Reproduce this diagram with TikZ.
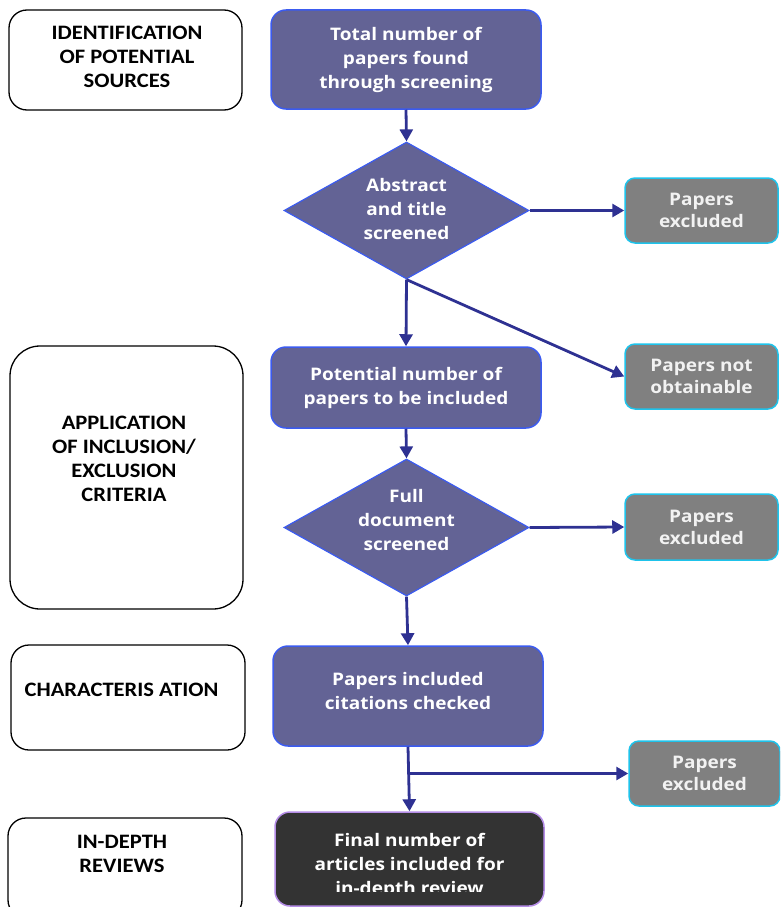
\documentclass[tikz,border=0pt]{standalone}
\usepackage{fontspec}
\newfontfamily\flowfont{Open Sans}[FakeStretch=1.1]
\newfontfamily\phasefont{Carlito}[FakeStretch=1.1]
\usetikzlibrary{arrows.meta,shapes.geometric,calc}

\definecolor{stepfill}{RGB}{99,99,149}
\definecolor{stepline}{RGB}{59,91,240}
\definecolor{outfill}{RGB}{128,128,128}
\definecolor{outline}{RGB}{30,195,235}
\definecolor{finalfill}{RGB}{51,51,51}
\definecolor{finalline}{RGB}{180,140,230}
\definecolor{flow}{RGB}{46,49,146}

\tikzset{
  phase/.style={draw=black, line width=1.3pt, fill=white, rounded corners=18pt, inner sep=0pt},
  phasetext/.style={font=\phasefont\bfseries\fontsize{20.5}{24}\selectfont, align=center, text=black, inner sep=0pt},
  flowtext/.style={font=\flowfont\bfseries\fontsize{17.3}{24}\selectfont, align=center, text=white, inner sep=0pt},
  stepbox/.style={draw=stepline, line width=1.5pt, fill=stepfill, rounded corners=15pt, flowtext},
  decision/.style={diamond, draw=stepline, line width=1.2pt, fill=stepfill, flowtext},
  outbox/.style={draw=outline, line width=1.5pt, fill=outfill, rounded corners=10pt, flowtext,
    text=white!95!black, font=\flowfont\bfseries\fontsize{17.3}{22}\selectfont},
  finalbox/.style={draw=finalline, line width=1.5pt, fill=finalfill, rounded corners=15pt, flowtext},
  flowarrow/.style={draw=flow, line width=2.8pt, -{Triangle[length=12pt,width=13pt]}},
}

\begin{document}
\begin{tikzpicture}[x=1pt, y=-1pt]
\useasboundingbox (0,0) rectangle (780,907);
\clip (0,0) rectangle (780,907);

% phase column
\node[phase, minimum width=233pt, minimum height=100pt] (p1) at (125.5,60) {};
\node[phasetext] (p1t) at (127,57) {IDENTIFICATION\\OF POTENTIAL\\SOURCES};
\node[phase, rounded corners=30pt, minimum width=233pt, minimum height=263pt] (p2) at (126.5,477.5) {};
\node[phasetext] (p2t) at (124,459) {APPLICATION\\OF INCLUSION/\\EXCLUSION\\CRITERIA};
\node[phase, minimum width=234pt, minimum height=105pt] (p3) at (128,697.5) {};
\node[phasetext] (p3t) at (121.5,690) {CHARACTERIS ATION};
\node[phase, minimum width=234pt, minimum height=100pt] (p4) at (125,868) {};
\node[phasetext] (p4t) at (122,854) {IN-DEPTH\\REVIEWS};

% screening flow
\node[stepbox, minimum width=270pt, minimum height=99pt] (total) at (406,59.5)
  {Total number of\\papers found\\through screening};
\node[decision, minimum width=245pt, minimum height=137pt] (abstract) at (406.5,210.5) {};
\node[flowtext] (abstractt) at (406.5,209) {Abstract\\and title\\screened};
\node[outbox, minimum width=153pt, minimum height=65pt] (excl1) at (701.5,210.5) {Papers\\excluded};
\node[stepbox, minimum width=270pt, minimum height=81pt] (potential) at (406,387.5)
  {Potential number of\\papers to be included};
\node[outbox, minimum width=153pt, minimum height=65pt] (notobt) at (701.5,376.5) {Papers not\\obtainable};
\node[decision, minimum width=245pt, minimum height=137pt] (full) at (406.5,527.5) {};
\node[flowtext] (fullt) at (406.5,520) {Full\\document\\screened};
\node[outbox, minimum width=153pt, minimum height=66pt] (excl2) at (701.5,527) {Papers\\excluded};
\node[stepbox, minimum width=270pt, minimum height=100pt] (citations) at (408,696) {};
\node[flowtext] (citationst) at (408,691.5) {Papers included\\citations checked};
\node[outbox, minimum width=151pt, minimum height=65pt] (excl3) at (704.5,773.5) {Papers\\excluded};
\node[finalbox, minimum width=269pt, minimum height=94pt] (final) at (409.5,859) {};
% the last text line runs past the text frame and is cut off at its baseline
\begin{scope}
  \clip (270,812) rectangle (550,891);
  \node[flowtext] (finalt) at (409.5,866) {Final number of\\articles included for\\in-depth review};
\end{scope}

% connectors
\draw[flowarrow] (total.south) -- (abstract.north);
\draw[flowarrow] (abstract.east) -- (excl1.west);
\draw[flowarrow] (abstract.south) -- (potential.north);
\draw[flowarrow] (abstract.south) -- (notobt.west);
\draw[flowarrow] (potential.south) -- (full.north);
\draw[flowarrow] (full.east) -- (excl2.west);
\draw[flowarrow] (full.south) -- (citations.north);
\draw[flowarrow] (citations.south) -- (final.north);
\coordinate (branch) at (citations.south |- excl3.west);
\draw[flowarrow] (branch) -- (excl3.west);
\end{tikzpicture}
\end{document}
